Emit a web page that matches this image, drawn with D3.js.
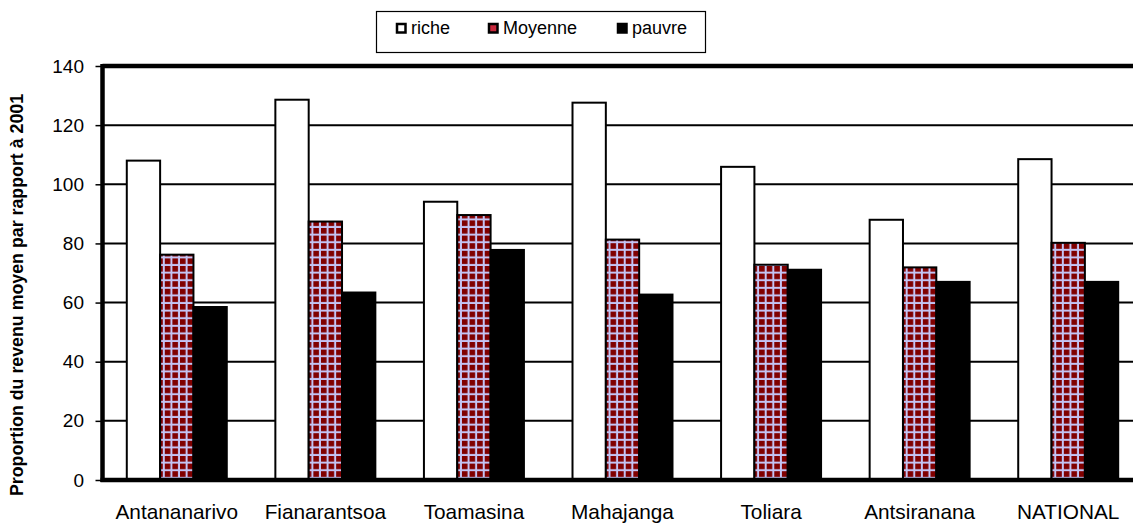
<!DOCTYPE html>
<html>
<head>
<meta charset="utf-8">
<script src="https://cdn.jsdelivr.net/npm/d3@7"></script>
<style>
  body { margin: 0; background: #fff; }
  svg { display: block; font-family: "Liberation Sans", Arial, sans-serif; }
</style>
</head>
<body>
<svg id="chart" width="1133" height="525"></svg>
<script>
(function () {

    var regions = ["Antananarivo", "Fianarantsoa", "Toamasina", "Mahajanga", "Toliara", "Antsiranana", "NATIONAL"],
        seriesNames = ["riche", "Moyenne", "pauvre"],
        riche = [108, 128.6, 94.1, 127.6, 105.9, 88, 108.5],
        moyenne = [76.2, 87.4, 89.6, 81.3, 72.8, 71.9, 80.2],
        pauvre = [58.5, 63.4, 77.8, 62.7, 71.1, 67, 67],
        yTicks = [0, 20, 40, 60, 80, 100, 120, 140];

    var values = [riche, moyenne, pauvre];

    var svg = d3.select("#chart"),
        left = 102.5,
        right = 1142.5,
        top = 66,
        bottom = 480;

    var defs = svg.append("defs");
    var pat = defs.append("pattern")
        .attr("id", "grid")
        .attr("patternUnits", "userSpaceOnUse")
        .attr("width", 7.6)
        .attr("height", 7.6);
    pat.append("rect").attr("width", 7.6).attr("height", 7.6).attr("fill", "#800000");
    pat.append("rect").attr("x", 5.6).attr("width", 2).attr("height", 7.6).attr("fill", "#c4c4f4");
    pat.append("rect").attr("y", 5.6).attr("width", 7.6).attr("height", 2).attr("fill", "#c4c4f4");

    var fills = ["#ffffff", "url(#grid)", "#000000"];

    var x0 = d3.scaleBand()
        .domain(regions)
        .range([left, right])
        .paddingInner(0.327)
        .paddingOuter(0.1635);

    var x1 = d3.scaleBand()
        .domain(seriesNames)
        .range([0, x0.bandwidth()]);

    var y = d3.scaleLinear()
        .domain([0, 140])
        .range([bottom, top]);

    // gridlines
    svg.append("g")
        .selectAll("line")
        .data(yTicks.filter(function (d) { return d > 0 && d < 140; }))
        .enter().append("line")
            .attr("x1", left)
            .attr("x2", 1133)
            .attr("y1", function (d) { return y(d); })
            .attr("y2", function (d) { return y(d); })
            .attr("stroke", "#000")
            .attr("stroke-width", 2);

    // bars
    var groups = svg.append("g")
        .selectAll("g")
        .data(regions)
        .enter().append("g")
            .attr("transform", function (d) { return "translate(" + x0(d) + ",0)"; });

    groups.selectAll("rect")
        .data(function (d, i) {
            return seriesNames.map(function (s, j) { return { s: s, v: values[j][i], j: j }; });
        })
        .enter().append("rect")
            .attr("x", function (d) { return x1(d.s); })
            .attr("width", x1.bandwidth())
            .attr("y", function (d) { return y(d.v); })
            .attr("height", function (d) { return y(0) - y(d.v); })
            .attr("fill", function (d) { return fills[d.j]; })
            .attr("stroke", "#000")
            .attr("stroke-width", 2);

    // frame: top and bottom thick lines, left axis
    svg.append("line")
        .attr("x1", left).attr("x2", 1133)
        .attr("y1", y(140)).attr("y2", y(140))
        .attr("stroke", "#000").attr("stroke-width", 4.5);
    svg.append("line")
        .attr("x1", left - 2).attr("x2", 1133)
        .attr("y1", y(0)).attr("y2", y(0))
        .attr("stroke", "#000").attr("stroke-width", 4.5);

    var yAxis = svg.append("g")
        .attr("transform", "translate(" + left + ",0)")
        .call(d3.axisLeft(y).tickValues(yTicks).tickSize(7).tickPadding(11.5).tickFormat(d3.format("d")));
    yAxis.select(".domain")
        .attr("stroke-width", 4.5)
        .attr("d", "M0," + (y(140) - 2) + "V" + (y(0) + 2));
    yAxis.selectAll(".tick line").attr("stroke-width", 1.5);
    yAxis.selectAll("text")
        .attr("font-size", 19)
        .attr("font-family", "'Liberation Sans', Arial, sans-serif")
        .attr("fill", "#000");

    // x labels
    svg.append("g")
        .selectAll("text")
        .data(regions)
        .enter().append("text")
            .attr("x", function (d) { return x0(d) + x0.bandwidth() / 2; })
            .attr("y", 519)
            .attr("text-anchor", "middle")
            .attr("font-size", 20.8)
            .text(function (d) { return d; });

    // y title
    svg.append("text")
        .attr("transform", "translate(23," + 295 + ") rotate(-90)")
        .attr("text-anchor", "middle")
        .attr("font-size", 17.8)
        .attr("font-weight", "bold")
        .text("Proportion du revenu moyen par rapport à 2001");

    // legend
    var legend = svg.append("g");
    legend.append("rect")
        .attr("x", 376.5).attr("y", 11.5)
        .attr("width", 329).attr("height", 41)
        .attr("fill", "#fff")
        .attr("stroke", "#000")
        .attr("stroke-width", 1.2);

    var legendX = [396, 488, 617];
    var items = legend.selectAll("g.item")
        .data(seriesNames)
        .enter().append("g")
            .attr("class", "item")
            .attr("transform", function (d, i) { return "translate(" + legendX[i] + ",23)"; });
    items.append("rect")
        .attr("x", 1).attr("y", 1)
        .attr("width", 8.5).attr("height", 8.5)
        .attr("fill", function (d, i) { return i === 1 ? "#c8283c" : fills[i]; })
        .attr("stroke", "#000")
        .attr("stroke-width", 2.5);
    items.append("text")
        .attr("x", 15)
        .attr("y", 11)
        .attr("font-size", 18)
        .text(function (d) { return d; });

}());
</script>
</body>
</html>
